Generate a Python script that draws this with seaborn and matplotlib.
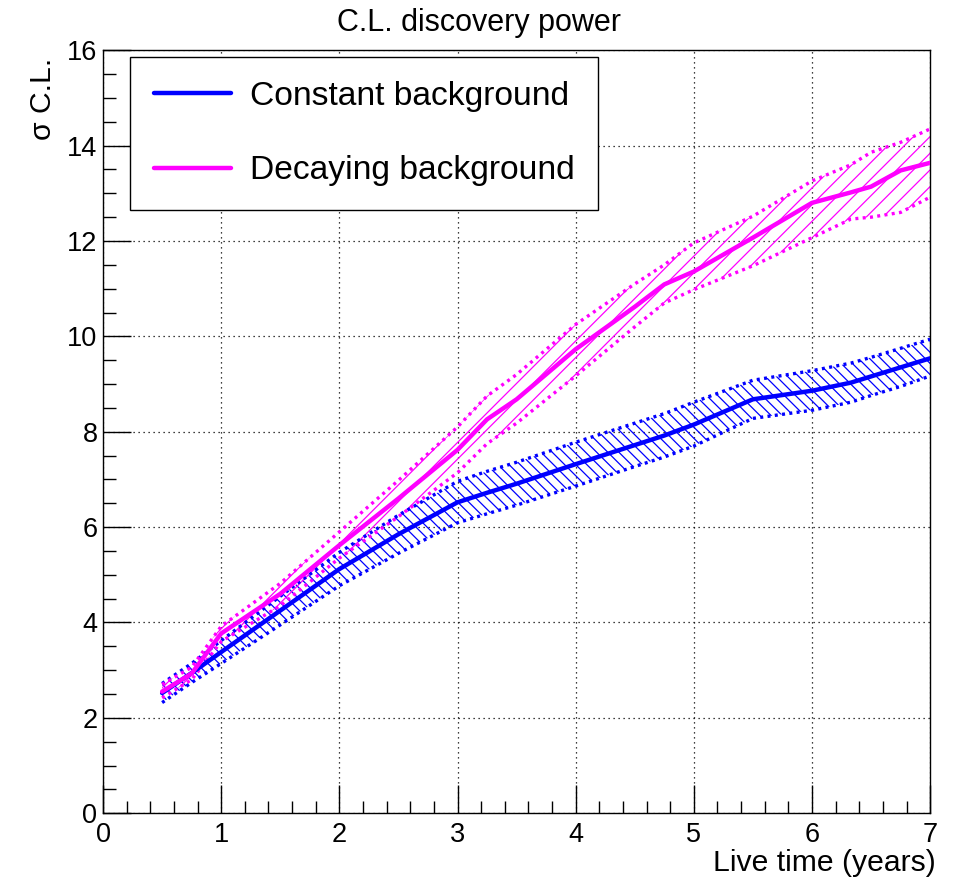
import numpy as np
import pandas as pd
import matplotlib
matplotlib.use("Agg")
import matplotlib.pyplot as plt
import seaborn as sns
from matplotlib.ticker import MultipleLocator
from matplotlib.lines import Line2D

# ---------------- data ----------------
years = [0.5, 0.75, 1.0, 1.5, 2.0, 2.5, 3.0, 3.25, 3.5, 4.0, 4.5, 4.75,
         5.0, 5.5, 6.0, 6.33, 6.5, 6.75, 7.0]

const_mid = [2.52, 2.94, 3.38, 4.25, 5.12, 5.85, 6.52, 6.72, 6.91, 7.32, 7.72, 7.92,
             8.15, 8.68, 8.86, 9.03, 9.16, 9.35, 9.54]
const_hi = [2.72, 3.14, 3.62, 4.55, 5.47, 6.25, 6.96, 7.17, 7.36, 7.78, 8.18, 8.38,
            8.62, 9.08, 9.28, 9.44, 9.56, 9.75, 9.94]
const_lo = [2.32, 2.74, 3.14, 3.95, 4.77, 5.45, 6.09, 6.28, 6.46, 6.86, 7.27, 7.47,
            7.70, 8.28, 8.45, 8.62, 8.76, 8.95, 9.17]

decay_mid = [2.55, 2.93, 3.77, 4.60, 5.62, 6.60, 7.62, 8.26, 8.68, 9.73, 10.62, 11.09,
             11.36, 12.07, 12.80, 13.02, 13.14, 13.48, 13.64]
decay_hi = [2.70, 3.06, 3.92, 4.82, 5.90, 6.98, 8.10, 8.75, 9.20, 10.25, 11.10, 11.50,
            11.96, 12.52, 13.26, 13.60, 13.86, 14.07, 14.35]
decay_lo = [2.42, 2.80, 3.60, 4.35, 5.35, 6.22, 7.14, 7.75, 8.18, 9.17, 10.20, 10.70,
            10.98, 11.48, 12.07, 12.46, 12.50, 12.60, 12.92]

series_names = ["Constant background", "Decaying background"]
title_text = "C.L. discovery power"
xlabel_text = "Live time (years)"
ylabel_text = "\u03c3 C.L."

# ---------------- style ----------------
sns.set_theme(style="white")
plt.rcParams["font.family"] = ["Liberation Sans", "DejaVu Sans"]
plt.rcParams["hatch.linewidth"] = 0.9
plt.rcParams["text.color"] = "black"
plt.rcParams["axes.labelcolor"] = "black"
plt.rcParams["xtick.color"] = "black"
plt.rcParams["ytick.color"] = "black"

colors = {series_names[0]: "#0000ff", series_names[1]: "#ff00ff"}

fig = plt.figure(figsize=(9.54, 8.82), dpi=100)
ax = fig.add_axes([0.108, 0.078, 0.867, 0.865])

# long-format table for the central curves
df = pd.DataFrame({
    "year": years * 2,
    "sigma": const_mid + decay_mid,
    "series": [series_names[0]] * len(years) + [series_names[1]] * len(years),
})

bands = [
    (series_names[0], const_lo, const_hi, "\\\\\\"),
    (series_names[1], decay_lo, decay_hi, "//"),
]
dot_style = (0, (0.9, 1.3))
for name, lo, hi, hatch in bands:
    c = colors[name]
    ax.fill_between(years, lo, hi, facecolor="none", edgecolor=c,
                    hatch=hatch, linewidth=0, zorder=2)
    sns.lineplot(x=years, y=lo, ax=ax, color=c, lw=2.4, linestyle=dot_style,
                 legend=False, zorder=3)
    sns.lineplot(x=years, y=hi, ax=ax, color=c, lw=2.4, linestyle=dot_style,
                 legend=False, zorder=3)

sns.lineplot(data=df, x="year", y="sigma", hue="series", palette=colors,
             lw=3.2, ax=ax, zorder=4, legend=False)

# ---------------- axes ----------------
ax.set_xlim(0, 7)
ax.set_ylim(0, 16)
ax.xaxis.set_major_locator(MultipleLocator(1))
ax.xaxis.set_minor_locator(MultipleLocator(0.2))
ax.yaxis.set_major_locator(MultipleLocator(2))
ax.yaxis.set_minor_locator(MultipleLocator(0.5))
ax.tick_params(which="both", direction="in", bottom=True, left=True,
               top=False, right=False, colors="black", labelcolor="black",
               labelsize=19.5)
ax.tick_params(which="major", length=20, width=1.0)
ax.tick_params(which="minor", length=9, width=1.0)
ax.tick_params(axis="x", which="major", pad=6)
ax.tick_params(axis="y", which="major", pad=4)
ax.grid(True, which="major", color="black", linestyle=(0, (1, 3)), linewidth=0.9)
ax.set_axisbelow(True)
for sp in ax.spines.values():
    sp.set_visible(True)
    sp.set_color("black")
    sp.set_linewidth(1.0)
ax.set_xlabel("")
ax.set_ylabel("")

# ---------------- legend ----------------
handles = [Line2D([], [], color=colors[n], lw=3.2) for n in series_names]
leg = ax.legend(handles, series_names, loc="upper left",
                bbox_to_anchor=(0.0327, 0.991), fontsize=24.2, frameon=True,
                fancybox=False, edgecolor="black", framealpha=1.0,
                handlelength=2.3, handletextpad=0.56, borderpad=0.7,
                labelspacing=1.3, borderaxespad=0)
leg.get_frame().set_linewidth(1.0)

# ---------------- texts ----------------
fig.text(0.502, 0.974, title_text, ha="center", va="center", fontsize=22)
fig.text(0.981, 0.022, xlabel_text, ha="right", va="center", fontsize=21.7)
fig.text(0.045, 0.935, ylabel_text, ha="center", va="top", rotation=90, fontsize=21.7)

fig.savefig("out.png", dpi=100)
